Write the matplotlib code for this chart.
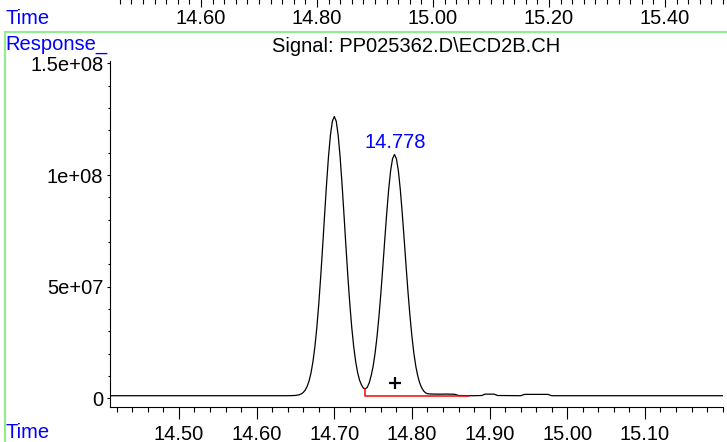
import matplotlib
matplotlib.use('Agg')
import matplotlib.pyplot as plt
from matplotlib.lines import Line2D
from matplotlib.ticker import FixedLocator, FixedFormatter, MultipleLocator

plt.rcParams['font.family'] = ['Liberation Sans', 'DejaVu Sans']

# ---- data ----
time_min = [14.411, 14.500, 14.600, 14.640, 14.645, 14.650, 14.655, 14.6575, 14.660, 14.6625,
            14.665, 14.6675, 14.670, 14.6725, 14.675, 14.6775, 14.680, 14.6825, 14.685, 14.6875,
            14.690, 14.6925, 14.695, 14.6975, 14.700, 14.7025, 14.705, 14.7075, 14.710, 14.7125,
            14.715, 14.7175, 14.720, 14.7225, 14.725, 14.7275, 14.730, 14.7325, 14.735, 14.7375,
            14.740, 14.7425, 14.745, 14.7475, 14.750, 14.7525, 14.755, 14.7575, 14.760, 14.7625,
            14.765, 14.7675, 14.770, 14.7725, 14.775, 14.7775, 14.780, 14.7825, 14.785, 14.7875,
            14.790, 14.7925, 14.795, 14.7975, 14.800, 14.8025, 14.805, 14.8075, 14.810, 14.8125,
            14.815, 14.8175, 14.820, 14.825, 14.835, 14.845, 14.855, 14.860, 14.880, 14.890,
            14.894, 14.906, 14.910, 14.940, 14.945, 14.975, 14.980, 15.100, 15.2005]
response_e6 = [1.2, 1.2, 1.2, 1.2, 1.25, 1.32, 1.65, 2.02, 2.65, 3.69,
               5.33, 7.80, 11.4, 16.4, 23.1, 31.7, 42.2, 54.5, 68.0, 82.1,
               95.8, 108.1, 117.8, 124.1, 126.2, 124.1, 117.8, 108.1, 95.8, 82.1,
               68.0, 54.5, 42.2, 31.7, 23.15, 16.5, 11.6, 8.18, 6.0, 4.6,
               4.3, 5.0, 7.0, 10.2, 14.4, 20.2, 27.6, 36.7, 47.2, 58.9,
               71.1, 82.9, 93.5, 101.9, 107.3, 109.2, 107.3, 101.9, 93.5, 82.9,
               71.1, 58.9, 47.2, 36.7, 27.6, 20.1, 14.3, 10.0, 6.9, 4.76,
               3.35, 2.5, 2.1, 1.95, 1.9, 1.95, 1.85, 1.3, 1.2, 1.3,
               1.9, 1.9, 1.3, 1.2, 1.8, 1.8, 1.2, 1.2, 1.2]

baseline_t = [14.740, 14.740, 14.874]
baseline_e6 = [4.3, 1.0, 1.0]

peak_label = "14.778"
peak_rt = 14.778
plus_t = 14.778
plus_e6 = 6.9

ytick_vals = [0, 5e7, 1e8, 1.5e8]
ytick_labels = ['0', '5e+07', '1e+08', '1.5e+08']
xtick_vals = [14.50, 14.60, 14.70, 14.80, 14.90, 15.00, 15.10]
xtick_labels = ['14.50', '14.60', '14.70', '14.80', '14.90', '15.00', '15.10']
top_tick_vals = [14.60, 14.80, 15.00, 15.20, 15.40]
top_tick_labels = ['14.60', '14.80', '15.00', '15.20', '15.40']
title_text = "Signal: PP025362.D\\ECD2B.CH"

# ---- figure ----
W, H = 727, 442
FS = 14.5
fig = plt.figure(figsize=(W / 100, H / 100), dpi=100)

ax = fig.add_axes([110 / W, 1 - 407 / H, (723 - 110) / W, (407 - 60.7) / H])
ax.plot(time_min, [v * 1e6 for v in response_e6], color='black', lw=0.9)
ax.plot(baseline_t, [v * 1e6 for v in baseline_e6], color='red', lw=1.1)
ax.plot([plus_t], [plus_e6 * 1e6], marker='+', ms=8, mew=1.6, color='black', ls='none')
ax.text(peak_rt, 1.145e8, peak_label, color='blue', ha='center', va='center', fontsize=FS)

ax.set_xlim(14.4112, 15.2005)
ax.set_ylim(-3.85e6, 1.512e8)
for s in ('top', 'right'):
    ax.spines[s].set_visible(False)
for s in ('left', 'bottom'):
    ax.spines[s].set_linewidth(0.8)

ax.xaxis.set_major_locator(FixedLocator(xtick_vals))
ax.xaxis.set_major_formatter(FixedFormatter(xtick_labels))
ax.xaxis.set_minor_locator(MultipleLocator(0.02))
ax.yaxis.set_major_locator(FixedLocator(ytick_vals))
ax.yaxis.set_major_formatter(FixedFormatter(ytick_labels))
ax.yaxis.set_minor_locator(MultipleLocator(1e7))
ax.tick_params(axis='x', which='major', direction='out', length=8.6, width=0.8, pad=4, labelsize=FS)
ax.tick_params(axis='x', which='minor', direction='out', length=3.6, width=0.8)
ax.tick_params(axis='y', which='major', direction='out', length=2.2, width=0.8, pad=2.5, labelsize=FS)
ax.tick_params(axis='y', which='minor', direction='out', length=1.5, width=0.8)

# top strip (time axis of the panel above)
axt = fig.add_axes([110 / W, 1 + 1 / H, (723 - 110) / W, 0.001])
axt.set_xlim(14.443, 15.500)
axt.set_ylim(0, 1)
for s in axt.spines.values():
    s.set_visible(False)
axt.yaxis.set_visible(False)
axt.patch.set_visible(False)
axt.xaxis.set_major_locator(FixedLocator(top_tick_vals))
axt.xaxis.set_major_formatter(FixedFormatter(top_tick_labels))
axt.xaxis.set_minor_locator(MultipleLocator(0.02))
axt.tick_params(axis='x', which='major', direction='out', length=5.8, width=0.8, pad=1.5, labelsize=FS)
axt.tick_params(axis='x', which='minor', direction='out', length=3.6, width=0.8)

# labels
fig.text(5 / W, 1 - 19 / H, 'Time', color='blue', ha='left', va='center', fontsize=FS)
fig.text(5 / W, 1 - 432 / H, 'Time', color='blue', ha='left', va='center', fontsize=FS)
fig.text(5 / W, 1 - 45 / H, 'Response_', color='blue', ha='left', va='center', fontsize=FS)
fig.text(416 / W, 1 - 47 / H, title_text, color='black', ha='center', va='center', fontsize=FS)

# light green panel separators
green = '#90EE90'
fig.add_artist(Line2D([5 / W, 1], [1 - 32 / H, 1 - 32 / H], color=green, lw=1.5))
fig.add_artist(Line2D([5 / W, 5 / W], [0, 1 - 32 / H], color=green, lw=1.5))

fig.savefig('out.png', dpi=100)
